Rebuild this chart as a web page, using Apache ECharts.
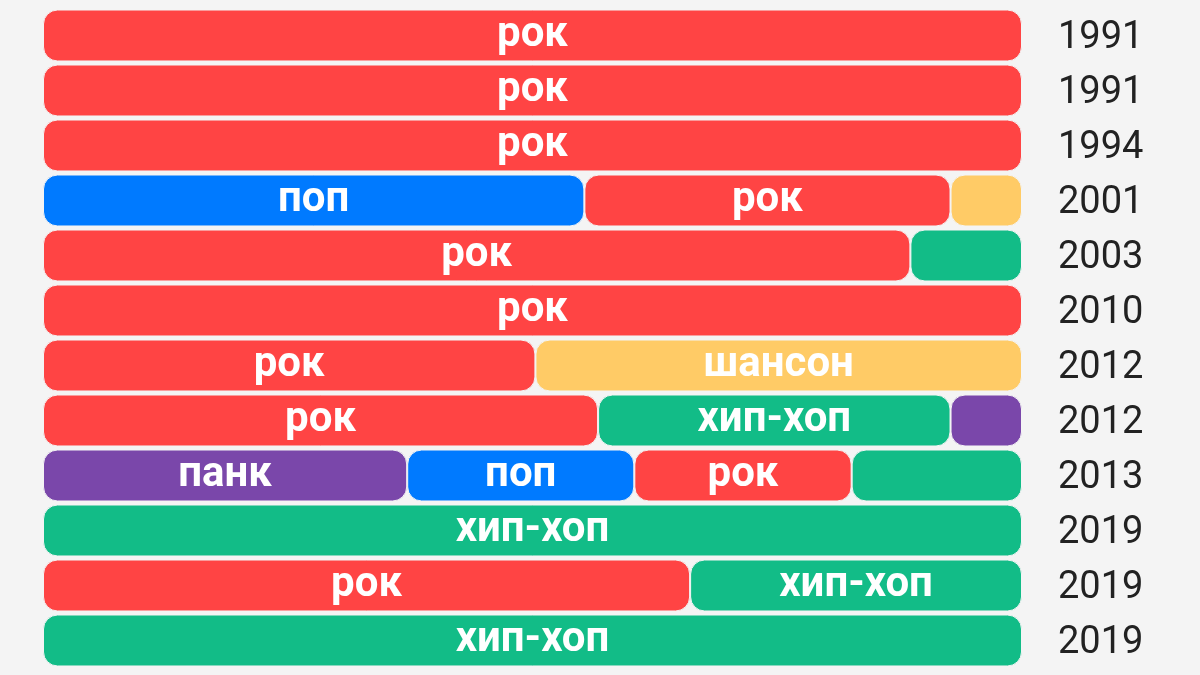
<!DOCTYPE html>
<html>
<head>
<meta charset="utf-8">
<script src="https://cdn.jsdelivr.net/npm/echarts@6/dist/echarts.min.js"></script>
<style>
html,body{margin:0;padding:0;background:#f4f4f4;}
#chart{width:1200px;height:675px;}
</style>
</head>
<body>
<div id="chart"></div>
<script>
// Rows (top to bottom)
const years = ['1991','1991','1994','2001','2003','2010','2012','2012','2013','2019','2019','2019'];

// Segment 1..4 for each row: genre and share (%)
const genre1 = ['рок','рок','рок','поп','рок','рок','рок','рок','панк','хип-хоп','рок','хип-хоп'];
const share1 = [100,100,100,55.3,88.6,100,50.3,56.7,37.2,100,66.1,100];

const genre2 = [null,null,null,'рок','хип-хоп',null,'шансон','хип-хоп','поп',null,'хип-хоп',null];
const share2 = [null,null,null,37.4,11.4,null,49.7,36.0,23.2,null,33.9,null];

const genre3 = [null,null,null,'шансон',null,null,null,'панк','рок',null,null,null];
const share3 = [null,null,null,7.3,null,null,null,7.3,22.2,null,null,null];

const genre4 = [null,null,null,null,null,null,null,null,'хип-хоп',null,null,null];
const share4 = [null,null,null,null,null,null,null,null,17.4,null,null,null];

const genreColors = {
  'рок': '#FF4444',
  'поп': '#007AFF',
  'шансон': '#FFCB66',
  'хип-хоп': '#12BC87',
  'панк': '#7A47AA'
};

const FONT = 'Roboto, "Noto Sans", sans-serif';

function buildSeries(genres, shares, idx) {
  return {
    name: 'seg' + idx,
    type: 'bar',
    stack: 'total',
    barCategoryGap: '5.5%',
    data: shares.map((v, i) => v == null ? '-' : {
      value: v,
      genre: genres[i],
      itemStyle: { color: genreColors[genres[i]] }
    }),
    itemStyle: {
      borderRadius: 14,
      borderColor: '#f4f4f4',
      borderWidth: 1
    },
    label: {
      show: true,
      position: 'inside',
      color: '#ffffff',
      fontFamily: FONT,
      fontWeight: 'bold',
      fontSize: 42,
      formatter: p => (p.value >= 20 ? p.data.genre : '')
    },
    emphasis: { disabled: true }
  };
}

const chart = echarts.init(document.getElementById('chart'), null, { renderer: 'canvas' });
chart.setOption({
  backgroundColor: '#f4f4f4',
  animation: false,
  grid: { left: 43, right: 178, top: 8, bottom: 7, containLabel: false },
  xAxis: {
    type: 'value', min: 0, max: 100, show: false
  },
  yAxis: {
    type: 'category',
    data: years,
    inverse: true,
    position: 'right',
    axisLine: { show: false },
    axisTick: { show: false },
    splitLine: { show: false },
    axisLabel: {
      margin: 36,
      formatter: v => '{y|' + v + '}',
      rich: {
        y: {
          fontFamily: FONT,
          fontSize: 38,
          color: '#222222',
          padding: [6, 0, 0, 0]
        }
      }
    }
  },
  series: [
    buildSeries(genre1, share1, 1),
    buildSeries(genre2, share2, 2),
    buildSeries(genre3, share3, 3),
    buildSeries(genre4, share4, 4)
  ]
});
</script>
</body>
</html>
